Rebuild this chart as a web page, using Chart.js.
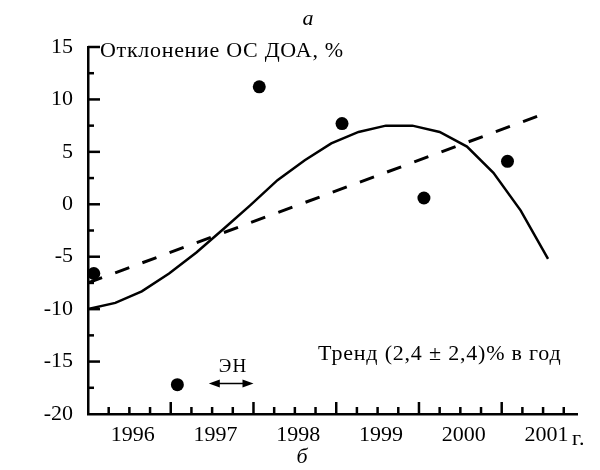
<!DOCTYPE html>
<html>
<head>
<meta charset="utf-8">
<script src="https://cdn.jsdelivr.net/npm/chart.js@4.4.1/dist/chart.umd.min.js"></script>
<style>
  html, body { margin: 0; padding: 0; background: #fff; }
  #wrap { width: 600px; height: 470px; }
</style>
</head>
<body>
<div id="wrap"><canvas id="chart" width="600" height="470"></canvas></div>
<script>
// Annual ozone deviation points
const years = [1996.07, 1997.08, 1998.07, 1999.07, 2000.06, 2001.07];
const deviation = [-6.6, -17.2, 11.2, 7.7, 0.6, 4.1];

// Smoothed curve (solid)
const smoothX = [1996.0, 1996.33, 1996.65, 1996.98, 1997.31, 1997.63, 1997.96, 1998.29, 1998.62,
                 1998.94, 1999.27, 1999.60, 1999.92, 2000.25, 2000.58, 2000.90, 2001.23, 2001.56];
const smoothY = [-10.0, -9.4, -8.3, -6.6, -4.6, -2.4, -0.1, 2.3, 4.2,
                 5.8, 6.9, 7.5, 7.5, 6.9, 5.5, 3.0, -0.6, -5.2];

// Linear trend (dashed)
const trendX = [1996.0, 2001.57];
const trendY = [-7.5, 8.8];

// Axis ticks
const yTicks = [-20, -15, -10, -5, 0, 5, 10, 15];
const xLabels = ['1996', '1997', '1998', '1999', '2000', '2001'];
const xLabelPos = [1996.54, 1997.54, 1998.54, 1999.54, 2000.54, 2001.54];

const FONT = "'Liberation Serif', 'Times New Roman', serif";
const INK = '#000';

const toXY = (xs, ys) => xs.map((x, i) => ({ x: x, y: ys[i] }));

// Inward ticks + annotations
const decorations = {
    id: 'decorations',
    afterDraw(chart) {
        const { ctx, scales: { x, y } } = chart;
        ctx.save();
        ctx.strokeStyle = INK;
        ctx.fillStyle = INK;
        ctx.lineWidth = 2.5;

        // y ticks, pointing right
        for (let v = -17.5; v <= 15; v += 2.5) {
            const py = y.getPixelForValue(v);
            const len = (v % 5 === 0) ? 12 : 6;
            ctx.beginPath();
            ctx.moveTo(x.left, py);
            ctx.lineTo(x.left + len, py);
            ctx.stroke();
        }
        // x ticks, pointing up
        for (let v = 1996.25; v <= 2001.8; v += 0.25) {
            const px = x.getPixelForValue(v);
            const major = Math.abs(v - Math.round(v)) < 1e-6;
            const len = major ? 12 : 7;
            ctx.beginPath();
            ctx.moveTo(px, y.bottom);
            ctx.lineTo(px, y.bottom - len);
            ctx.stroke();
        }

        // texts
        ctx.textBaseline = 'alphabetic';
        ctx.textAlign = 'left';
        ctx.font = `22px ${FONT}`;
        ctx.letterSpacing = '0.7px';
        ctx.fillText('Отклонение ОС ДОА, %', 100, 57);
        ctx.letterSpacing = '0.8px';
        ctx.fillText('Тренд (2,4 ± 2,4)% в год', 318, 360);
        ctx.letterSpacing = '0.5px';
        ctx.fillText('г.', 572, 445);

        ctx.letterSpacing = '0px';
        ctx.textAlign = 'center';
        ctx.font = `italic 22px ${FONT}`;
        ctx.fillText('а', 308, 25);
        ctx.fillText('б', 302, 463);

        ctx.font = `19px ${FONT}`;
        ctx.letterSpacing = '1px';
        ctx.fillText('ЭН', 233, 372);
        ctx.letterSpacing = '0px';

        // double arrow under ЭН
        const ax1 = x.getPixelForValue(1997.46);
        const ax2 = x.getPixelForValue(1998.0);
        const ay = y.getPixelForValue(-17.1);
        ctx.lineWidth = 1.5;
        ctx.beginPath();
        ctx.moveTo(ax1 + 4, ay);
        ctx.lineTo(ax2 - 4, ay);
        ctx.stroke();
        [[ax1, 1], [ax2, -1]].forEach(([ax, d]) => {
            ctx.beginPath();
            ctx.moveTo(ax, ay);
            ctx.lineTo(ax + d * 11, ay - 4);
            ctx.lineTo(ax + d * 11, ay + 4);
            ctx.closePath();
            ctx.fill();
        });
        ctx.restore();
    }
};

const ctx = document.getElementById('chart').getContext('2d');
new Chart(ctx, {
    type: 'scatter',
    data: {
        datasets: [
            {
                label: 'Сглаживание',
                data: toXY(smoothX, smoothY),
                showLine: true,
                borderColor: INK,
                borderWidth: 2.5,
                pointRadius: 0,
                tension: 0
            },
            {
                label: 'Тренд',
                data: toXY(trendX, trendY),
                showLine: true,
                borderColor: INK,
                borderWidth: 3,
                borderDash: [15, 14],
                pointRadius: 0
            },
            {
                label: 'Отклонение',
                data: toXY(years, deviation),
                showLine: false,
                pointRadius: 6.5,
                pointBackgroundColor: INK,
                pointBorderWidth: 0
            }
        ]
    },
    options: {
        responsive: false,
        animation: false,
        layout: { padding: { top: 47, right: 23, left: 0, bottom: 0 } },
        plugins: {
            legend: { display: false },
            tooltip: { enabled: false }
        },
        scales: {
            x: {
                type: 'linear',
                min: 1996.0,
                max: 2001.91,
                afterFit: s => { s.height = 56; },
                afterBuildTicks: s => { s.ticks = xLabelPos.map(v => ({ value: v })); },
                ticks: {
                    color: INK,
                    padding: 8,
                    maxRotation: 0,
                    font: { family: FONT, size: 22 },
                    callback: (v) => xLabels[xLabelPos.indexOf(v)]
                },
                grid: { display: true, drawOnChartArea: false, drawTicks: false, color: 'rgba(0,0,0,0)' },
                border: { display: true, color: INK, width: 2.5 }
            },
            y: {
                type: 'linear',
                min: -20,
                max: 15,
                afterFit: s => { s.width = 88; },
                afterBuildTicks: s => { s.ticks = yTicks.map(v => ({ value: v })); },
                ticks: {
                    color: INK,
                    padding: 15,
                    font: { family: FONT, size: 22 }
                },
                grid: { display: true, drawOnChartArea: false, drawTicks: false, color: 'rgba(0,0,0,0)' },
                border: { display: true, color: INK, width: 2.5 }
            }
        }
    },
    plugins: [decorations]
});
</script>
</body>
</html>
